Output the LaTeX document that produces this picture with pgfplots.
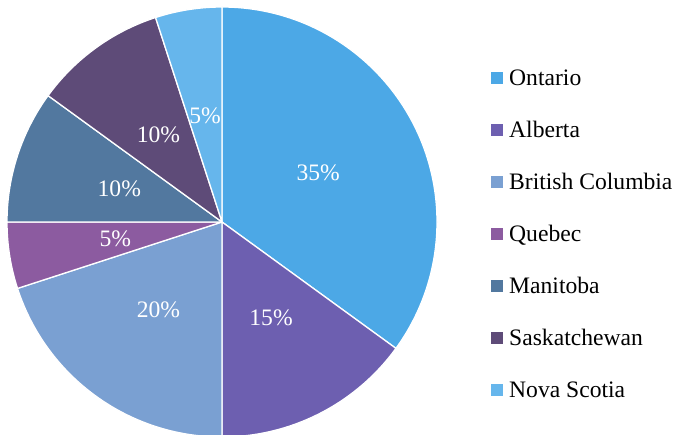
\documentclass[border=0pt]{standalone}
\usepackage{pgfplots}
\pgfplotsset{compat=1.18}
\usepackage{pgfplotstable}
\usepackage{fontspec}
\setmainfont{Liberation Serif}

\definecolor{cOnt}{HTML}{4CA8E6}
\definecolor{cAlb}{HTML}{6D5FB0}
\definecolor{cBC}{HTML}{7AA0D2}
\definecolor{cQue}{HTML}{8C5BA0}
\definecolor{cMan}{HTML}{52789F}
\definecolor{cSas}{HTML}{5E4B78}
\definecolor{cNS}{HTML}{66B6EC}

\pgfplotstableread[col sep=comma]{
name,value,col
Ontario,35,cOnt
Alberta,15,cAlb
British Columbia,20,cBC
Quebec,5,cQue
Manitoba,10,cMan
Saskatchewan,10,cSas
Nova Scotia,5,cNS
}\shares

\newcommand\txtfont{\fontsize{23.6}{27}\selectfont}

\begin{document}
\begin{tikzpicture}
\begin{axis}[
  hide axis, scale only axis, clip=false,
  x=1pt, y=1pt,
  xmin=0, xmax=676, ymin=0, ymax=435,
]
\pgfplotstablegetrowsof{\shares}
\pgfmathtruncatemacro\nlast{\pgfplotsretval-1}
\def\cum{0}
\pgfplotsforeachungrouped \i in {0,...,\nlast}{%
  \pgfplotstablegetelem{\i}{value}\of\shares \let\v\pgfplotsretval
  \pgfplotstablegetelem{\i}{col}\of\shares \let\c\pgfplotsretval
  \pgfplotstablegetelem{\i}{name}\of\shares \let\n\pgfplotsretval
  \pgfmathsetmacro\a{90-3.6*\cum}
  \pgfmathsetmacro\b{\a-3.6*\v}
  \pgfmathsetmacro\m{(\a+\b)/2}
  \pgfmathsetmacro\ly{435-85.5-52*\i}
  \edef\temp{%
    \noexpand\filldraw[fill=\c, draw=white, line width=1.3pt, line join=round]
      (axis cs:222,213) -- ++(\a:215pt) arc[start angle=\a, end angle=\b, radius=215pt] -- cycle;
    \noexpand\path (axis cs:222,213) ++(\m:108pt)
      node[text=white, font=\noexpand\txtfont] {\v\noexpand\%};
    \noexpand\fill[\c] (axis cs:491,\ly+1) rectangle (axis cs:503,\ly+13);
    \noexpand\node[anchor=base west, inner sep=0pt, font=\noexpand\txtfont, text=black]
      at (axis cs:509,\ly) {\n};
  }\temp
  \pgfmathsetmacro\cum{\cum+\v}
}
\end{axis}
\pgfresetboundingbox
\path (0,0) rectangle (676pt,435pt);
\end{tikzpicture}
\end{document}
